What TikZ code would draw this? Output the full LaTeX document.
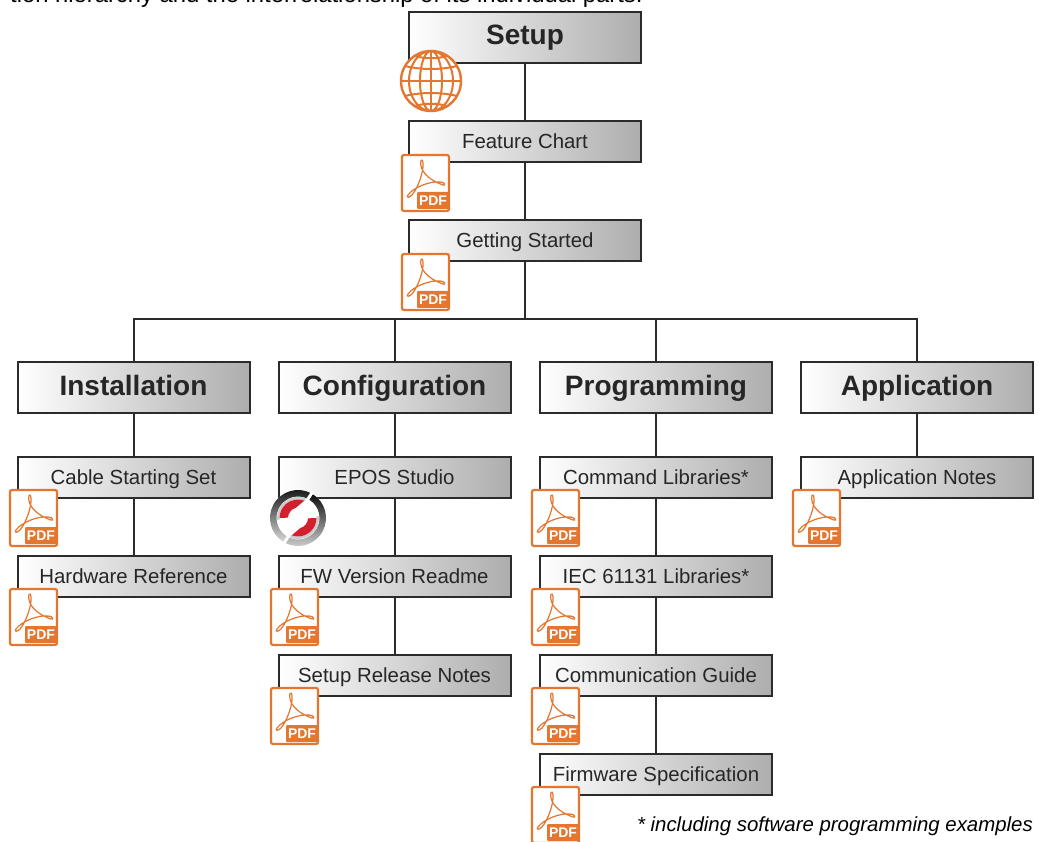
\documentclass[tikz,border=0pt]{standalone}
\usepackage{fontspec}
\setmainfont{Liberation Sans}
\usepackage{tikz}
\definecolor{iconorange}{HTML}{E4762F}
\definecolor{boxline}{HTML}{2B2B2B}
\definecolor{logored}{HTML}{D3202F}
\tikzset{
  bigbox/.style={draw=boxline, line width=2pt, minimum width=232pt, minimum height=51pt, inner sep=0pt,
    left color=white, middle color=black!9, right color=black!32, text height=21pt, text depth=6pt,
    font=\fontsize{28}{30}\selectfont\bfseries, text=black!85},
  smallbox/.style={bigbox, minimum height=41pt, text height=15.3pt, text depth=1.7pt, font=\fontsize{20.4}{22}\selectfont},
  conn/.style={draw=boxline, line width=2pt},
  pdficon/.pic={
    \draw[iconorange, line width=2.2pt, rounded corners=2pt, fill=white] (0,0) rectangle (47,56);
    \fill[iconorange, rounded corners=1pt] (15,37) rectangle (47,54);
    \node[white, font=\fontsize{14}{14}\selectfont\bfseries, inner sep=0pt] at (31,45.5) {PDF};
    \draw[iconorange, line width=1.2pt] (19,5) .. controls (17,14) and (24,24) .. (41,30)
      .. controls (44,31) and (43,27) .. (38,27) .. controls (28,26) and (12,32) .. (6,40)
      .. controls (4,43) and (7,43) .. (10,40) .. controls (16,33) and (22,16) .. (21,8)
      .. controls (21,5) and (19,4) .. (19,6);
  },
  globeicon/.pic={
    \fill[white] (0,0) circle (30);
    \draw[iconorange, line width=2.4pt] (0,0) circle (30);
    \draw[iconorange, line width=2pt] (0,-30) -- (0,30) (-30,0) -- (30,0);
    \draw[iconorange, line width=2pt] (0,0) ellipse (11 and 30) (0,0) ellipse (22 and 30);
    \draw[iconorange, line width=2pt] (-26,-15) .. controls (-10,-11) and (10,-11) .. (26,-15)
      (-26,15) .. controls (-10,11) and (10,11) .. (26,15)
      (-16,-25) .. controls (-6,-22) and (6,-22) .. (16,-25)
      (-16,25) .. controls (-6,22) and (6,22) .. (16,25);
  },
  eposicon/.pic={
    \fill[white] (0,0) circle (28);
    \begin{scope}[yscale=-1]
    \foreach \a in {0,180}{
      \begin{scope}[rotate=\a]
        \shade[top color=black!95, bottom color=black!15] (62:28) arc (62:238:28) -- (238:21.5) arc (238:62:21.5) -- cycle;
        \fill[black!20] (66:21) arc (66:185:21) -- (185:18.5) arc (185:66:18.5) -- cycle;
        \fill[logored] (70:18.5) arc (70:180:18.5) -- (178:10) arc (178:105:10.5) -- cycle;
      \end{scope}
    }
    \draw[white, line width=2.8pt] (14.5,26) -- (-3,0) -- (3,0) -- (-14.5,-26);
    \end{scope}
  },
}
\begin{document}
\begin{tikzpicture}[x=1pt,y=-1pt]
\useasboundingbox (0,0) rectangle (1039,842);

\node[anchor=base west, inner sep=0pt, font=\fontsize{23.8}{26}\selectfont] at (10,3)(intro){tion hierarchy and the interrelationship of its individual parts.};

% top column
\node[bigbox] at (525,37.5)(setup){Setup};
\node[smallbox] at (525,141.5)(feature){Feature Chart};
\node[smallbox] at (525,240.5)(started){Getting Started};

% the four groups
\node[bigbox] at (133.5,387.5)(install){Installation};
\node[bigbox] at (394.5,387.5)(config){Configuration};
\node[bigbox] at (656,387.5)(program){Programming};
\node[bigbox] at (917,387.5)(applic){Application};

\node[smallbox] at (133.5,477.5)(cable){Cable Starting Set};
\node[smallbox] at (133.5,576.5)(hardware){Hardware Reference};

\node[smallbox] at (394.5,477.5)(studio){EPOS Studio};
\node[smallbox] at (394.5,576.5)(readme){FW Version Readme};
\node[smallbox] at (394.5,675.5)(release){Setup Release Notes};

\node[smallbox] at (656,477.5)(command){Command Libraries*};
\node[smallbox] at (656,576.5)(iec){IEC 61131 Libraries*};
\node[smallbox] at (656,675.5)(commguide){Communication Guide};
\node[smallbox] at (656,774.5)(firmware){Firmware Specification};

\node[smallbox] at (917,477.5)(appnotes){Application Notes};

\node[anchor=base east, inner sep=0pt, font=\fontsize{20.4}{22}\selectfont\itshape] at (1033,831)(footnote){* including software programming examples};

% connectors
\coordinate (bus) at (525,319);
\draw[conn] (setup) -- (feature);
\draw[conn] (feature) -- (started);
\draw[conn] (started) -- (bus);
\draw[conn] (bus) -| (install);
\draw[conn] (bus) -| (config);
\draw[conn] (bus) -| (program);
\draw[conn] (bus) -| (applic);
\draw[conn] (install) -- (cable);
\draw[conn] (cable) -- (hardware);
\draw[conn] (config) -- (studio);
\draw[conn] (studio) -- (readme);
\draw[conn] (readme) -- (release);
\draw[conn] (program) -- (command);
\draw[conn] (command) -- (iec);
\draw[conn] (iec) -- (commguide);
\draw[conn] (commguide) -- (firmware);
\draw[conn] (applic) -- (appnotes);

% icons
\pic at (431,81) {globeicon};
\pic at (402,155) {pdficon};
\pic at (402,254) {pdficon};
\pic at (10,490) {pdficon};
\pic at (10,589) {pdficon};
\pic at (298,518) {eposicon};
\pic at (271,589) {pdficon};
\pic at (271,688) {pdficon};
\pic at (532,490) {pdficon};
\pic at (532,589) {pdficon};
\pic at (532,688) {pdficon};
\pic at (532,787) {pdficon};
\pic at (793,490) {pdficon};
\end{tikzpicture}
\end{document}
